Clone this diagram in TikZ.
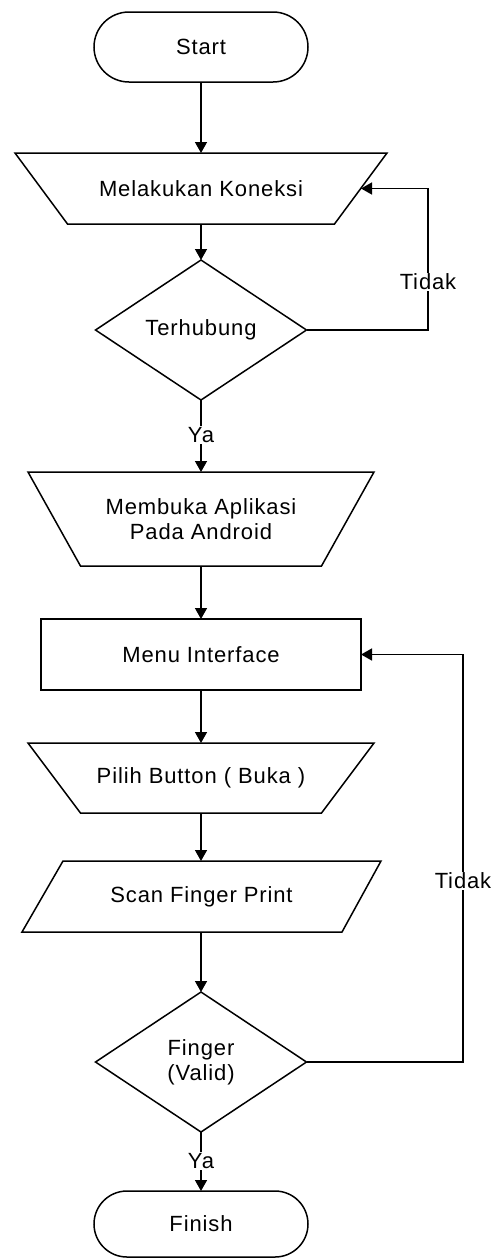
\documentclass[tikz,border=0pt]{standalone}
\usepackage{fontspec}
\setmainfont[LetterSpace=4]{Liberation Sans}
\usetikzlibrary{shapes.geometric,shapes.misc,arrows.meta}
\begin{document}
\begin{tikzpicture}[x=1pt,y=-1pt,
  every node/.style={font=\fontsize{22}{25}\selectfont, inner sep=0pt, outer sep=0pt},
  lin/.style={line width=1.5pt, draw=black},
  arr/.style={lin, -{Triangle[length=11pt,width=12pt]}},
  terminal/.style={rounded rectangle, lin, minimum width=214pt},
  boxed/.style={rectangle, minimum height=71pt},
  decision/.style={diamond, lin, minimum width=211pt, minimum height=140pt, align=center},
  lbl/.style={fill=white, inner sep=1pt}
]
\useasboundingbox (0,0) rectangle (492,1259);

% nodes
\node[terminal, minimum height=70pt] (start) at (201,47) {Start};
\node[boxed, minimum width=372pt] (mel) at (201,188.5) {Melakukan Koneksi};
\node[decision] (ter) at (201,330) {Terhubung};
\node[boxed, minimum width=346pt, minimum height=94pt, align=center] (mem) at (201,519) {Membuka Aplikasi\\Pada Android};
\node[boxed, lin, minimum width=320pt] (menu) at (201,654.5) {Menu Interface};
\node[boxed, minimum width=346pt, minimum height=70pt] (pil) at (201,778) {Pilih Button ( Buka )};
\node[boxed, minimum width=359pt] (scan) at (201.5,896.5) {Scan Finger Print};
\node[decision] (fin) at (201,1062) {Finger\\(Valid)};
\node[terminal, minimum height=66pt] (finish) at (201,1224) {Finish};

% shape outlines
\draw[lin] (mel.north west) -- (mel.north east) -- ([xshift=-52.5pt]mel.south east) -- ([xshift=52.5pt]mel.south west) -- cycle;
\draw[lin] (mem.north west) -- (mem.north east) -- ([xshift=-52.5pt]mem.south east) -- ([xshift=52.5pt]mem.south west) -- cycle;
\draw[lin] (pil.north west) -- (pil.north east) -- ([xshift=-52.5pt]pil.south east) -- ([xshift=52.5pt]pil.south west) -- cycle;
\draw[lin] ([xshift=41pt]scan.north west) -- (scan.north east) -- ([xshift=-39pt]scan.south east) -- (scan.south west) -- cycle;

% loop coordinates
\coordinate (loopA) at (428,188.5);
\coordinate (melin) at ([xshift=-26pt]mel.east);
\coordinate (loopB) at (463,654.5);

% connectors
\draw[arr] (start.south) -- (mel.north);
\draw[arr] (mel.south) -- (ter.north);
\draw[arr] (ter.east) -| (loopA) -- (melin);
\draw[arr] (ter.south) -- (mem.north);
\draw[arr] (mem.south) -- (menu.north);
\draw[arr] (menu.south) -- (pil.north);
\draw[arr] (pil.south) -- (pil.south |- scan.north);
\draw[arr] (scan.south -| fin.north) -- (fin.north);
\draw[arr] (fin.east) -| (loopB) -- (menu.east);
\draw[arr] (fin.south) -- (finish.north);

% labels
\node[lbl] (tidak1) at (428,282) {Tidak};
\node[lbl] (ya1) at (201,435) {Ya};
\node[lbl] (tidak2) at (463,881) {Tidak};
\node[lbl] (ya2) at (201,1161) {Ya};
\end{tikzpicture}
\end{document}
